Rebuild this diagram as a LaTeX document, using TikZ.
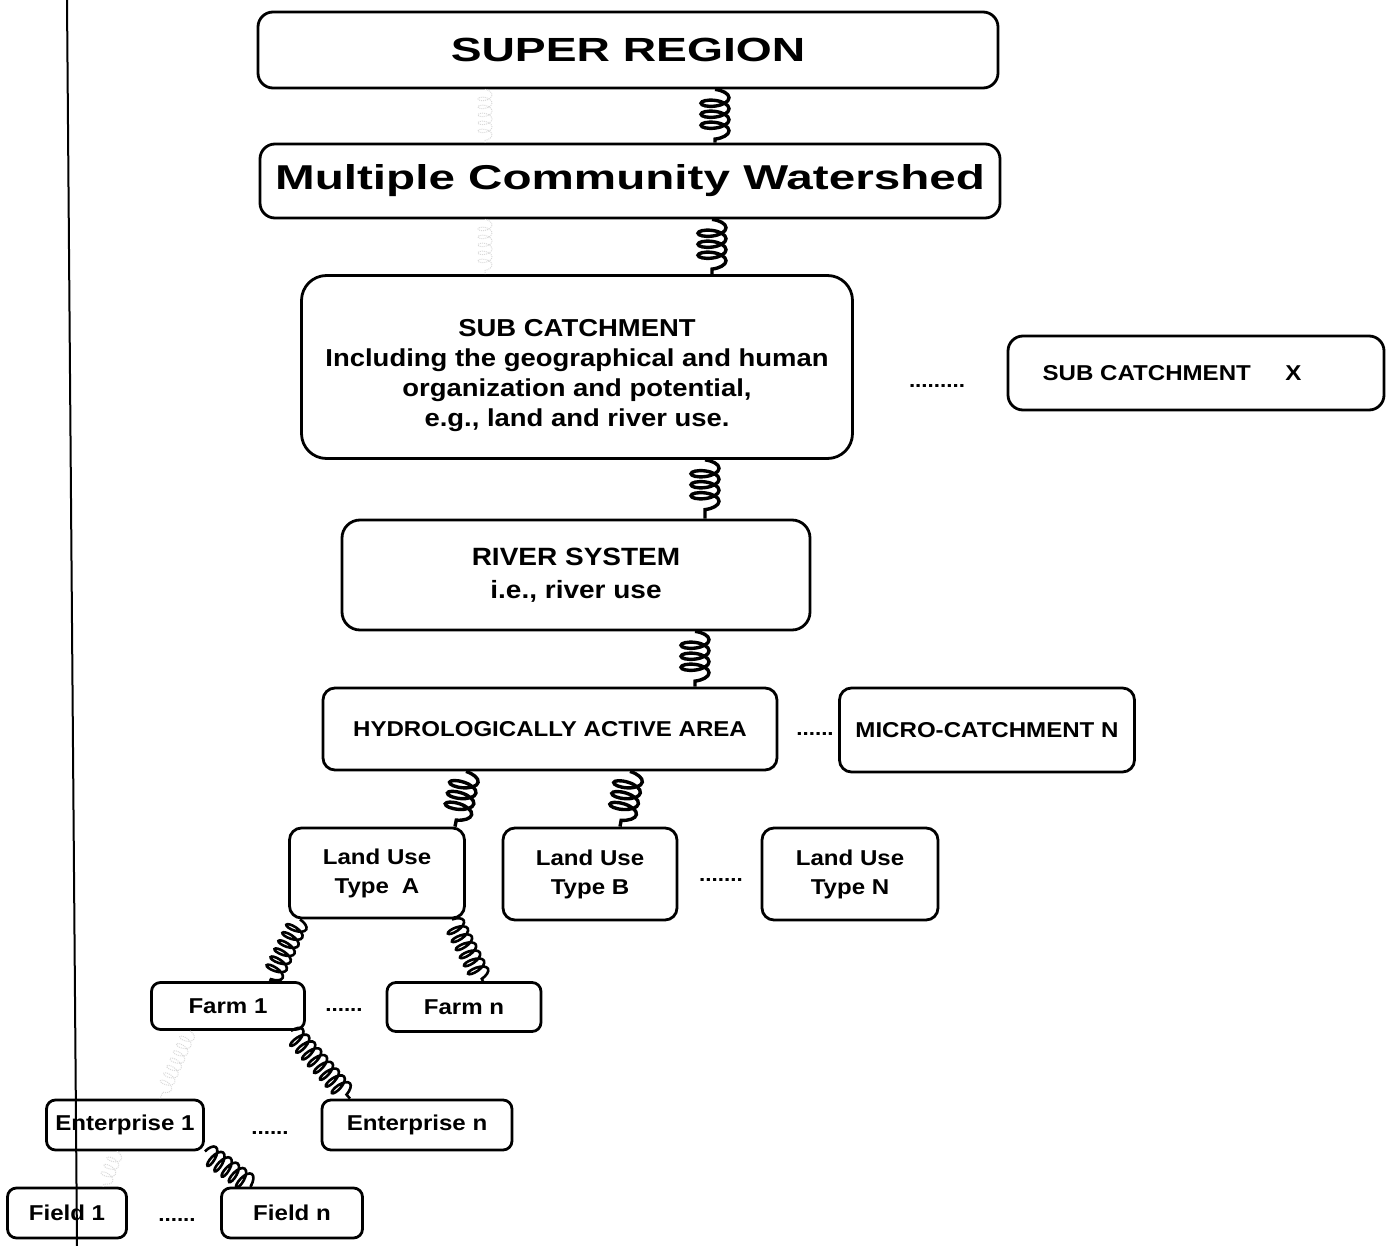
\documentclass[tikz,border=0pt]{standalone}
\usepackage{fontspec}
\setmainfont{Liberation Sans}[FakeStretch=1.12]
\newfontfamily\widefont{Liberation Sans}[FakeStretch=1.38]
\usetikzlibrary{positioning,
				decorations.pathmorphing}

\begin{document}
\begin{tikzpicture}[x=1pt,y=-1pt,
		box/.style={draw, line width=2.8pt, rounded corners=12pt, align=center, inner sep=0pt,
			font=\bfseries\fontsize{21.5}{29}\selectfont},
		bigfont/.style={font=\widefont\bfseries\fontsize{33.5}{36}\selectfont},
		dotrow/.style={inner sep=0pt, font=\bfseries\fontsize{20}{29}\selectfont},
		spring/.style={line width=3.4pt, decorate,
			decoration={coil, amplitude=14pt, segment length=11pt, aspect=0.4}},
		thinspring/.style={line width=2.6pt, decorate,
			decoration={coil, amplitude=10pt, segment length=9pt, aspect=0.4}},
		faint/.style={gray!30, line width=1pt, densely dotted, decorate,
			decoration={coil, amplitude=7pt, segment length=8pt, aspect=0.5}}]
	\useasboundingbox (0,0) rectangle (1391,1246);

	% upper levels
	\node[box, bigfont, minimum width=740pt, minimum height=76pt, rounded corners=15pt] (super) at (628,50) {SUPER REGION};
	\node[box, bigfont, minimum width=740pt, minimum height=74pt, rounded corners=15pt, font=\widefont\bfseries\fontsize{34.5}{36}\selectfont] (mcw) at (630,181) {Multiple Community Watershed};
	\node[box, minimum width=551pt, minimum height=183pt, rounded corners=25pt, font=\bfseries\fontsize{24.5}{30}\selectfont] (sub) at (577,367)
		{\raisebox{-8pt}[\height][\depth]{\begin{tabular}{@{}c@{}}SUB CATCHMENT\\Including the geographical and human\\organization and potential,\\e.g., land and river use.\end{tabular}}};
	\node[box, minimum width=376pt, minimum height=74pt, rounded corners=15pt] (subx) at (1196,373) {SUB CATCHMENT\hspace{1.6em}X\hspace*{48pt}};
	\node[dotrow] (d1) at (937,386) {.........};
	\node[box, minimum width=468pt, minimum height=110pt, rounded corners=18pt, font=\bfseries\fontsize{25}{33}\selectfont] (river) at (576,575) {RIVER SYSTEM\\i.e., river use};
	\node[box, minimum width=454pt, minimum height=82pt] (haa) at (550,729) {HYDROLOGICALLY ACTIVE AREA};
	\node[box, minimum width=295pt, minimum height=84pt] (micro) at (987,730) {MICRO-CATCHMENT N};
	\node[dotrow] (d2) at (815,734) {......};

	% land use types
	\node[box, minimum width=175pt, minimum height=90pt] (luA) at (377,873) {Land Use\\Type\hspace{0.6em}A};
	\node[box, minimum width=174pt, minimum height=92pt] (luB) at (590,874) {Land Use\\Type B};
	\node[box, minimum width=176pt, minimum height=92pt] (luN) at (850,874) {Land Use\\Type N};
	\node[dotrow] (d3) at (721,880) {.......};

	% farms, enterprises, fields
	\node[box, minimum width=153pt, minimum height=47pt, rounded corners=9pt] (farm1) at (228,1006) {Farm 1};
	\node[box, minimum width=154pt, minimum height=49pt, rounded corners=9pt] (farmn) at (464,1007) {Farm n};
	\node[dotrow] (d4) at (344,1010) {......};
	\node[box, minimum width=157pt, minimum height=50pt, rounded corners=9pt] (ent1) at (125,1125) {Enterprise 1};
	\node[box, minimum width=190pt, minimum height=50pt, rounded corners=9pt] (entn) at (417,1125) {Enterprise n};
	\node[dotrow] (d5) at (270,1133) {......};
	\node[box, minimum width=119pt, minimum height=50pt, rounded corners=9pt] (field1) at (67,1213) {Field 1};
	\node[box, minimum width=141pt, minimum height=50pt, rounded corners=9pt] (fieldn) at (292,1213) {Field n};
	\node[dotrow] (d6) at (177,1220) {......};

	% coil links
	\draw[spring] ([xshift=87pt]super.south) -- ([xshift=85pt]mcw.north);
	\draw[spring] ([xshift=82pt]mcw.south) -- ([xshift=135pt]sub.north);
	\draw[spring] ([xshift=128pt]sub.south) -- ([xshift=129pt]river.north);
	\draw[spring] ([xshift=119pt]river.south) -- ([xshift=145pt]haa.north);
	\draw[spring] ([xshift=-84pt]haa.south) -- ([xshift=78pt]luA.north);
	\draw[spring] ([xshift=80pt]haa.south) -- ([xshift=30pt]luB.north);
	\draw[thinspring] ([xshift=-77pt]luA.south) -- ([xshift=42pt]farm1.north);
	\draw[thinspring] ([xshift=75pt]luA.south) -- ([xshift=19pt]farmn.north);
	\draw[thinspring] ([xshift=63pt]farm1.south) -- ([xshift=-67pt]entn.north);
	\draw[thinspring] (ent1.south east) -- ([xshift=-40pt]fieldn.north);

	% faint links
	\draw[faint] ([xshift=-143pt]super.south) -- ([xshift=-145pt]mcw.north);
	\draw[faint] ([xshift=-145pt]mcw.south) -- ([xshift=-92pt]sub.north);
	\draw[faint] ([xshift=-38pt]farm1.south) -- ([xshift=35pt]ent1.north);
	\draw[faint] ([xshift=-8pt]ent1.south) -- ([xshift=36pt]field1.north);

	% scan line
	\draw[line width=2pt] (67,0) -- (77,1246);
\end{tikzpicture}
\end{document}
